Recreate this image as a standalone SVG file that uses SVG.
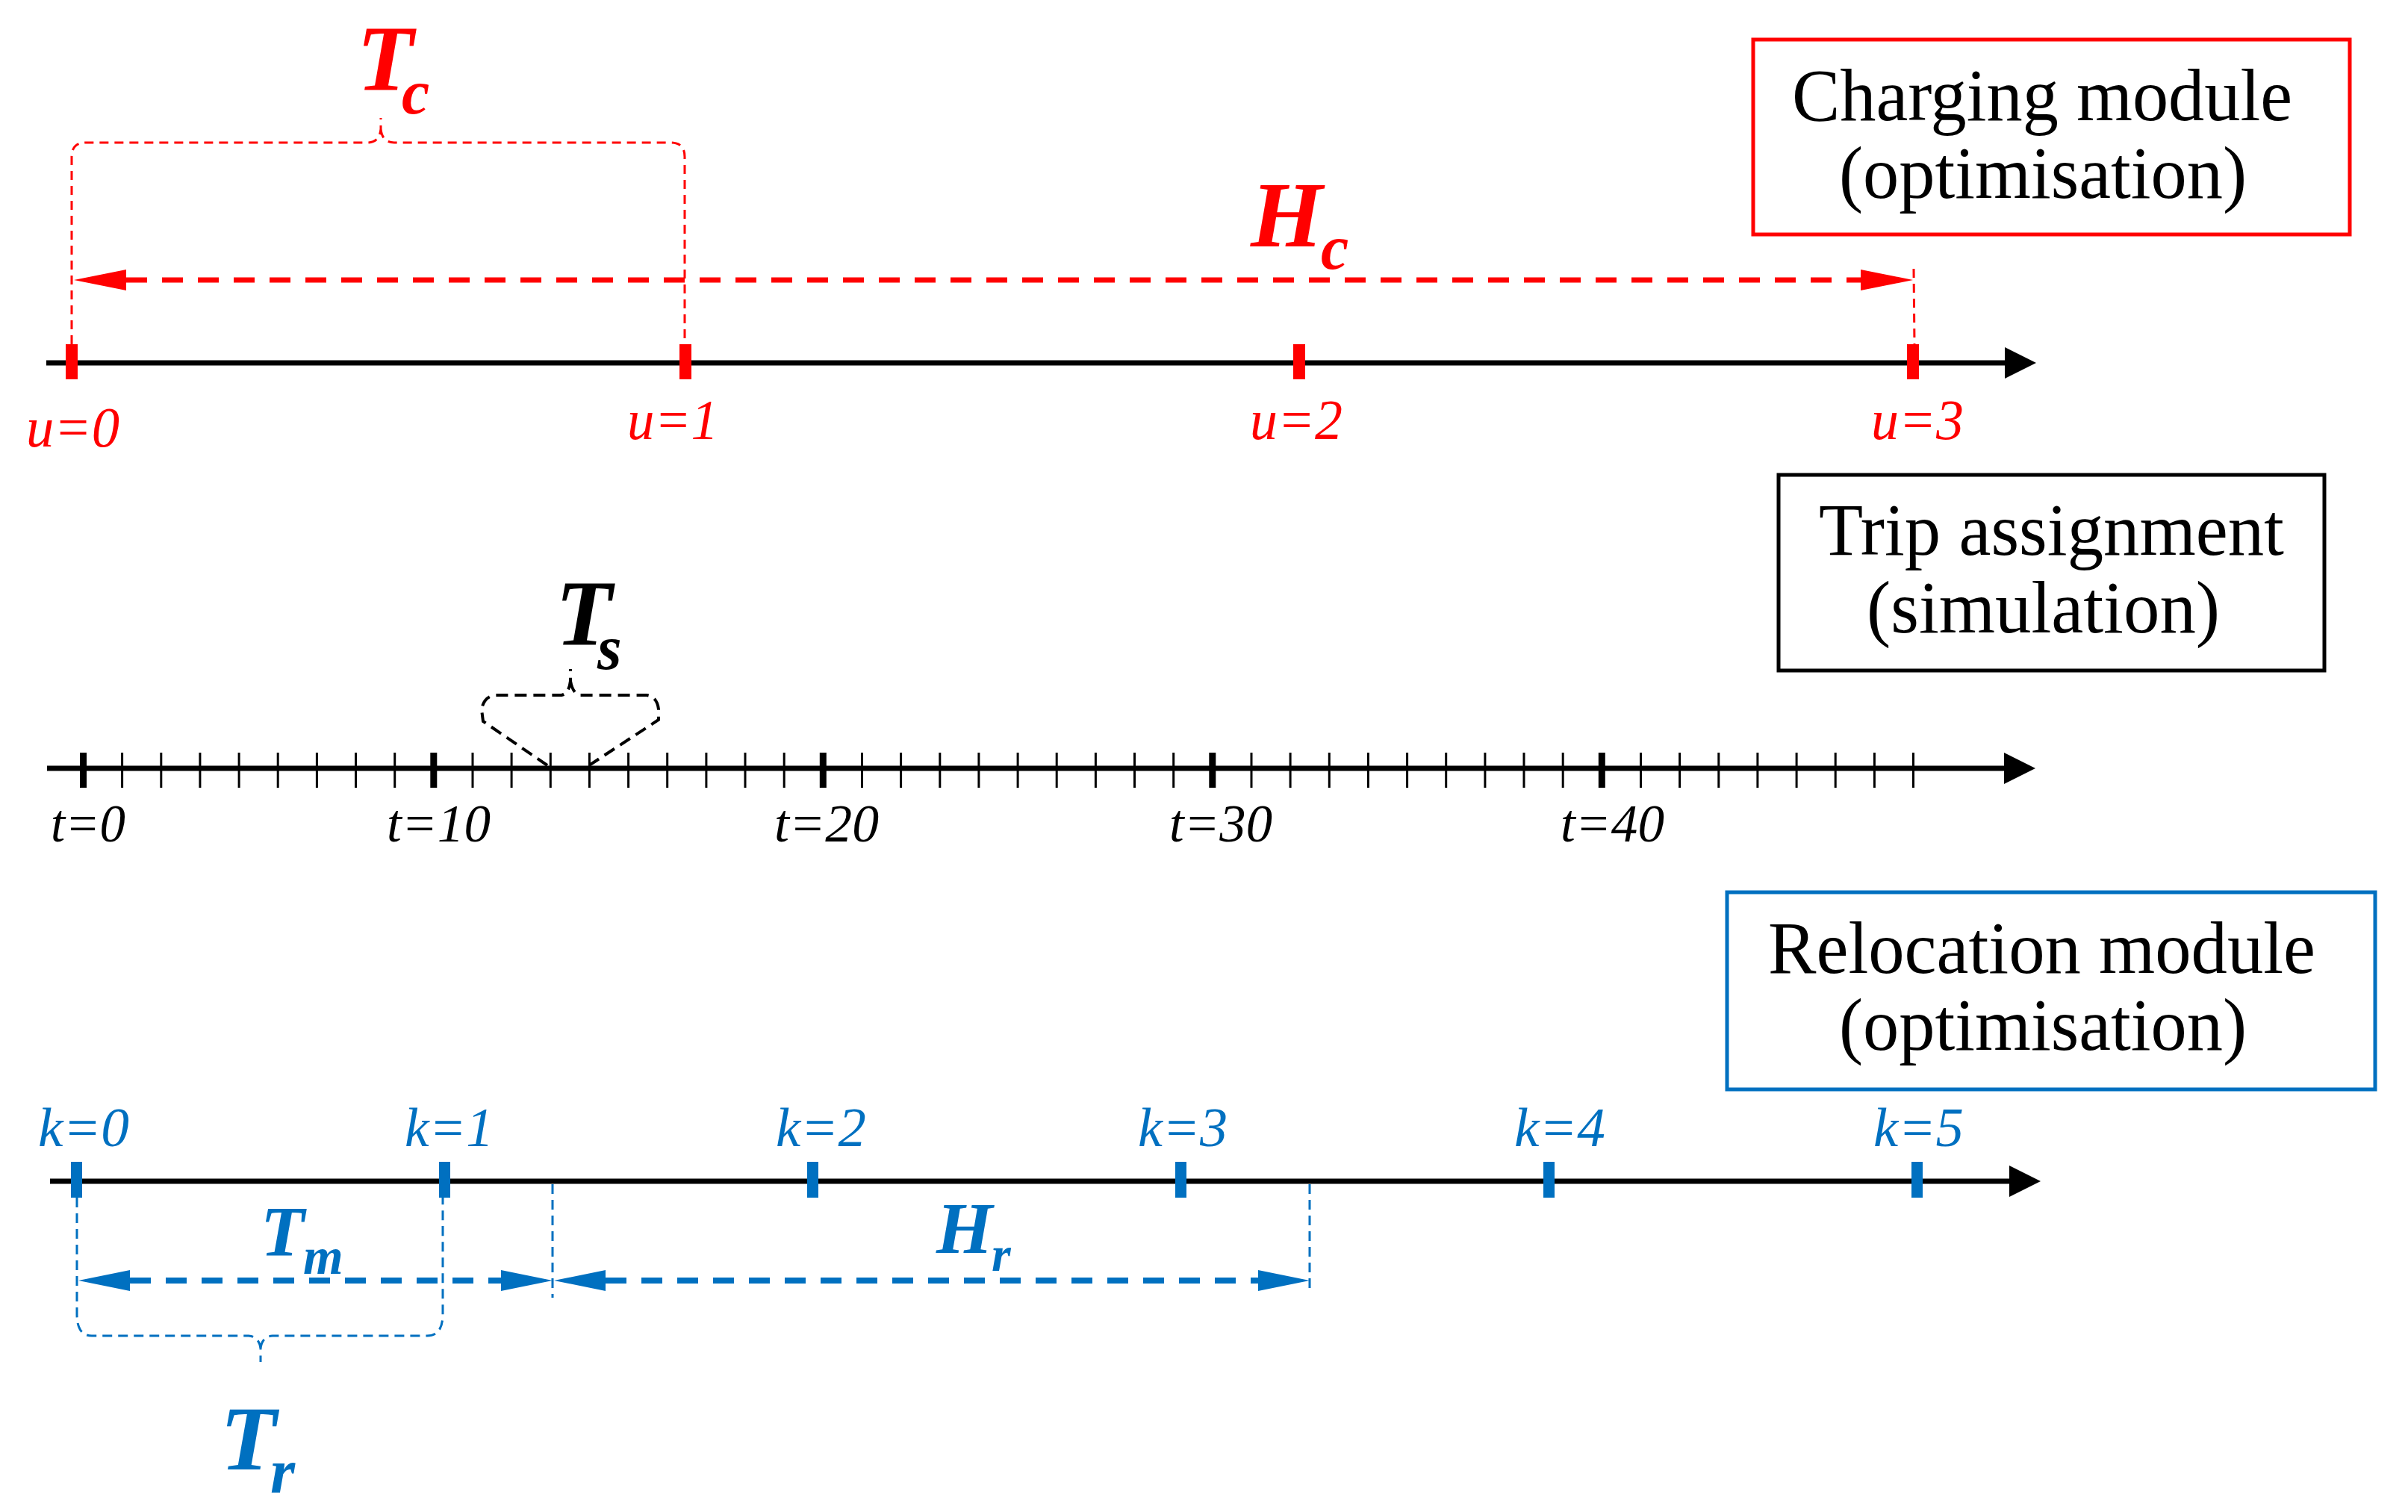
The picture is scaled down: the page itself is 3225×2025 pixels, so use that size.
<svg xmlns="http://www.w3.org/2000/svg" width="3225" height="2025" viewBox="0 0 3225 2025">
<style>
  text { font-family: "Liberation Serif", "Times New Roman", serif; }
  .lbl { font-style: italic; }
  .sym { font-style: italic; font-weight: bold; }
  .box { fill: none; stroke-width: 5; }
  .boxtxt { font-size: 100px; fill: #000; }
  .axis { stroke: #000; stroke-width: 7; fill: none; }
  .red { fill: #FF0000; }
  .blue { fill: #0070C0; }
  .thinred { stroke: #FF0000; stroke-width: 3; fill: none; stroke-dasharray: 12 8; }
  .thinblue { stroke: #0070C0; stroke-width: 3; fill: none; stroke-dasharray: 13 8; }
  .thinblack { stroke: #000; stroke-width: 4; fill: none; stroke-dasharray: 16 9; }
  .thickred { stroke: #FF0000; stroke-width: 7; fill: none; stroke-dasharray: 28 20; }
  .thickblue { stroke: #0070C0; stroke-width: 8; fill: none; stroke-dasharray: 28 20; }
</style>
<defs>
  <marker id="axArrow" markerUnits="userSpaceOnUse" viewBox="0 0 42 42" markerWidth="42" markerHeight="42" refX="0" refY="21" orient="auto">
    <path d="M0,0 L42,21 L0,42 z" fill="#000" stroke="none"/>
  </marker>
  <marker id="redArrow" markerUnits="userSpaceOnUse" viewBox="0 0 70 28" markerWidth="70" markerHeight="28" refX="0" refY="14" orient="auto-start-reverse">
    <path d="M0,0 L70,14 L0,28 z" fill="#FF0000" stroke="none"/>
  </marker>
  <marker id="blueArrow" markerUnits="userSpaceOnUse" viewBox="0 0 69 28" markerWidth="69" markerHeight="28" refX="0" refY="14" orient="auto-start-reverse">
    <path d="M0,0 L69,14 L0,28 z" fill="#0070C0" stroke="none"/>
  </marker>
</defs>
<rect width="3225" height="2025" fill="#fff"/>

<!-- Boxes -->
<g id="charging-module">
  <rect class="box" x="2348" y="53" width="799" height="261" stroke="#FF0000"/>
  <text class="boxtxt" x="2400" y="161" textLength="670" lengthAdjust="spacingAndGlyphs">Charging module</text>
  <text class="boxtxt" x="2463" y="265" textLength="546" lengthAdjust="spacingAndGlyphs">(optimisation)</text>
</g>
<g id="trip-assignment">
  <rect class="box" x="2382" y="636" width="731" height="262" stroke="#000"/>
  <text class="boxtxt" x="2436" y="743" textLength="623" lengthAdjust="spacingAndGlyphs">Trip assignment</text>
  <text class="boxtxt" x="2500" y="847" textLength="473" lengthAdjust="spacingAndGlyphs">(simulation)</text>
</g>
<g id="relocation-module">
  <rect class="box" x="2313" y="1195" width="868" height="264" stroke="#0070C0"/>
  <text class="boxtxt" x="2368" y="1303" textLength="733" lengthAdjust="spacingAndGlyphs">Relocation module</text>
  <text class="boxtxt" x="2463" y="1406" textLength="546" lengthAdjust="spacingAndGlyphs">(optimisation)</text>
</g>

<!-- Axis 1: charging -->
<g id="axis-charging">
  <line class="axis" x1="62" y1="486" x2="2685" y2="486" marker-end="url(#axArrow)"/>
  <rect class="red" x="88" y="461" width="16" height="47"/>
  <rect class="red" x="910" y="461" width="16" height="47"/>
  <rect class="red" x="1732" y="461" width="16" height="47"/>
  <rect class="red" x="2554" y="461" width="16" height="47"/>
  <text class="lbl red" font-size="76" x="35" y="598" textLength="125" lengthAdjust="spacingAndGlyphs">u=0</text>
  <text class="lbl red" font-size="76" x="840" y="588" textLength="122" lengthAdjust="spacingAndGlyphs">u=1</text>
  <text class="lbl red" font-size="76" x="1674" y="588" textLength="124" lengthAdjust="spacingAndGlyphs">u=2</text>
  <text class="lbl red" font-size="76" x="2506" y="588" textLength="124" lengthAdjust="spacingAndGlyphs">u=3</text>
</g>

<!-- Axis 2: trip assignment -->
<g id="axis-trip">
  <line class="axis" x1="63" y1="1029" x2="2684" y2="1029" marker-end="url(#axArrow)"/>
  <g stroke="#000" stroke-width="3">
    <line x1="163.6" y1="1008" x2="163.6" y2="1055"/>
    <line x1="215.8" y1="1008" x2="215.8" y2="1055"/>
    <line x1="267.9" y1="1008" x2="267.9" y2="1055"/>
    <line x1="320.1" y1="1008" x2="320.1" y2="1055"/>
    <line x1="372.2" y1="1008" x2="372.2" y2="1055"/>
    <line x1="424.4" y1="1008" x2="424.4" y2="1055"/>
    <line x1="476.5" y1="1008" x2="476.5" y2="1055"/>
    <line x1="528.7" y1="1008" x2="528.7" y2="1055"/>
    <line x1="633" y1="1008" x2="633" y2="1055"/>
    <line x1="685.1" y1="1008" x2="685.1" y2="1055"/>
    <line x1="737.3" y1="1008" x2="737.3" y2="1055"/>
    <line x1="789.4" y1="1008" x2="789.4" y2="1055"/>
    <line x1="841.6" y1="1008" x2="841.6" y2="1055"/>
    <line x1="893.7" y1="1008" x2="893.7" y2="1055"/>
    <line x1="945.9" y1="1008" x2="945.9" y2="1055"/>
    <line x1="998" y1="1008" x2="998" y2="1055"/>
    <line x1="1050.2" y1="1008" x2="1050.2" y2="1055"/>
    <line x1="1154.5" y1="1008" x2="1154.5" y2="1055"/>
    <line x1="1206.6" y1="1008" x2="1206.6" y2="1055"/>
    <line x1="1258.8" y1="1008" x2="1258.8" y2="1055"/>
    <line x1="1310.9" y1="1008" x2="1310.9" y2="1055"/>
    <line x1="1363.1" y1="1008" x2="1363.1" y2="1055"/>
    <line x1="1415.2" y1="1008" x2="1415.2" y2="1055"/>
    <line x1="1467.4" y1="1008" x2="1467.4" y2="1055"/>
    <line x1="1519.5" y1="1008" x2="1519.5" y2="1055"/>
    <line x1="1571.7" y1="1008" x2="1571.7" y2="1055"/>
    <line x1="1676" y1="1008" x2="1676" y2="1055"/>
    <line x1="1728.1" y1="1008" x2="1728.1" y2="1055"/>
    <line x1="1780.3" y1="1008" x2="1780.3" y2="1055"/>
    <line x1="1832.4" y1="1008" x2="1832.4" y2="1055"/>
    <line x1="1884.6" y1="1008" x2="1884.6" y2="1055"/>
    <line x1="1936.7" y1="1008" x2="1936.7" y2="1055"/>
    <line x1="1988.9" y1="1008" x2="1988.9" y2="1055"/>
    <line x1="2041" y1="1008" x2="2041" y2="1055"/>
    <line x1="2093.2" y1="1008" x2="2093.2" y2="1055"/>
    <line x1="2197.5" y1="1008" x2="2197.5" y2="1055"/>
    <line x1="2249.6" y1="1008" x2="2249.6" y2="1055"/>
    <line x1="2301.8" y1="1008" x2="2301.8" y2="1055"/>
    <line x1="2353.9" y1="1008" x2="2353.9" y2="1055"/>
    <line x1="2406.1" y1="1008" x2="2406.1" y2="1055"/>
    <line x1="2458.2" y1="1008" x2="2458.2" y2="1055"/>
    <line x1="2510.4" y1="1008" x2="2510.4" y2="1055"/>
    <line x1="2562.5" y1="1008" x2="2562.5" y2="1055"/>
  </g>
  <g stroke="#000" stroke-width="9">
    <line x1="111.5" y1="1008" x2="111.5" y2="1055"/>
    <line x1="580.8" y1="1008" x2="580.8" y2="1055"/>
    <line x1="1102.3" y1="1008" x2="1102.3" y2="1055"/>
    <line x1="1623.8" y1="1008" x2="1623.8" y2="1055"/>
    <line x1="2145.3" y1="1008" x2="2145.3" y2="1055"/>
  </g>
  <text class="lbl" font-size="72" x="68" y="1127" textLength="100" lengthAdjust="spacingAndGlyphs">t=0</text>
  <text class="lbl" font-size="72" x="518" y="1127" textLength="139" lengthAdjust="spacingAndGlyphs">t=10</text>
  <text class="lbl" font-size="72" x="1037" y="1127" textLength="140" lengthAdjust="spacingAndGlyphs">t=20</text>
  <text class="lbl" font-size="72" x="1566" y="1127" textLength="138" lengthAdjust="spacingAndGlyphs">t=30</text>
  <text class="lbl" font-size="72" x="2090" y="1127" textLength="139" lengthAdjust="spacingAndGlyphs">t=40</text>
</g>

<!-- Axis 3: relocation -->
<g id="axis-relocation">
  <line class="axis" x1="67" y1="1582" x2="2691" y2="1582" marker-end="url(#axArrow)"/>
  <rect class="blue" x="95" y="1556" width="15" height="48"/>
  <rect class="blue" x="588" y="1556" width="15" height="48"/>
  <rect class="blue" x="1081" y="1556" width="15" height="48"/>
  <rect class="blue" x="1574" y="1556" width="15" height="48"/>
  <rect class="blue" x="2067" y="1556" width="15" height="48"/>
  <rect class="blue" x="2560" y="1556" width="15" height="48"/>
  <text class="lbl blue" font-size="75" x="51" y="1535" textLength="122" lengthAdjust="spacingAndGlyphs">k=0</text>
  <text class="lbl blue" font-size="75" x="542" y="1535" textLength="119" lengthAdjust="spacingAndGlyphs">k=1</text>
  <text class="lbl blue" font-size="75" x="1039" y="1535" textLength="121" lengthAdjust="spacingAndGlyphs">k=2</text>
  <text class="lbl blue" font-size="75" x="1524" y="1535" textLength="120" lengthAdjust="spacingAndGlyphs">k=3</text>
  <text class="lbl blue" font-size="75" x="2028" y="1535" textLength="122" lengthAdjust="spacingAndGlyphs">k=4</text>
  <text class="lbl blue" font-size="75" x="2509" y="1535" textLength="121" lengthAdjust="spacingAndGlyphs">k=5</text>
</g>

<!-- Connectors: spans, braces and dimension arrows -->
<g id="connectors">
  <path class="thinred" d="M96,461 V210 Q96,191 115,191 H492 Q508,191 510,173 V158 M510,173 Q512,191 528,191 H898 Q917,191 917,210 V461"/>
  <line class="thinred" x1="2563" y1="360" x2="2564" y2="461"/>
  <line class="thickred" x1="169" y1="375" x2="2492" y2="375" marker-start="url(#redArrow)" marker-end="url(#redArrow)"/>

  <path class="thinblack" d="M733,1025 L647,966 L645,950 Q648,933 663,931 H752 Q762,929 764,912 V896 M764,912 Q767,929 777,931 H866 Q880,933 882,950 L882,964 L789,1025"/>

  <path class="thinblue" d="M103,1604 V1760 Q103,1789 123,1789 H333 Q347,1790 349,1806 V1824 M349,1806 Q351,1790 365,1789 H572 Q593,1789 593,1760 V1604"/>
  <line class="thinblue" x1="740" y1="1586" x2="740" y2="1738"/>
  <line class="thinblue" x1="1754" y1="1586" x2="1754" y2="1731"/>
  <line class="thickblue" x1="174" y1="1715" x2="671" y2="1715" marker-start="url(#blueArrow)" marker-end="url(#blueArrow)"/>
  <line class="thickblue" x1="811" y1="1715" x2="1685" y2="1715" marker-start="url(#blueArrow)" marker-end="url(#blueArrow)"/>
</g>

<!-- Symbols -->
<g id="label-Tc">
  <text class="sym red" font-size="124" x="478" y="121">T<tspan x="538" y="152" font-size="84">c</tspan></text>
</g>
<g id="label-Hc">
  <text class="sym red" font-size="124" x="1675" y="330">H<tspan x="1769" y="360" font-size="84">c</tspan></text>
</g>
<g id="label-Ts">
  <text class="sym" font-size="124" x="744" y="864">T<tspan x="800" y="896" font-size="84">s</tspan></text>
</g>
<g id="label-Tm">
  <text class="sym blue" font-size="96" x="349" y="1682">T<tspan x="406" y="1706" font-size="69">m</tspan></text>
</g>
<g id="label-Hr">
  <text class="sym blue" font-size="97" x="1254" y="1678">H<tspan x="1328" y="1702" font-size="66">r</tspan></text>
</g>
<g id="label-Tr">
  <text class="sym blue" font-size="123" x="295" y="1968">T<tspan x="362" y="1999" font-size="85">r</tspan></text>
</g>
</svg>
